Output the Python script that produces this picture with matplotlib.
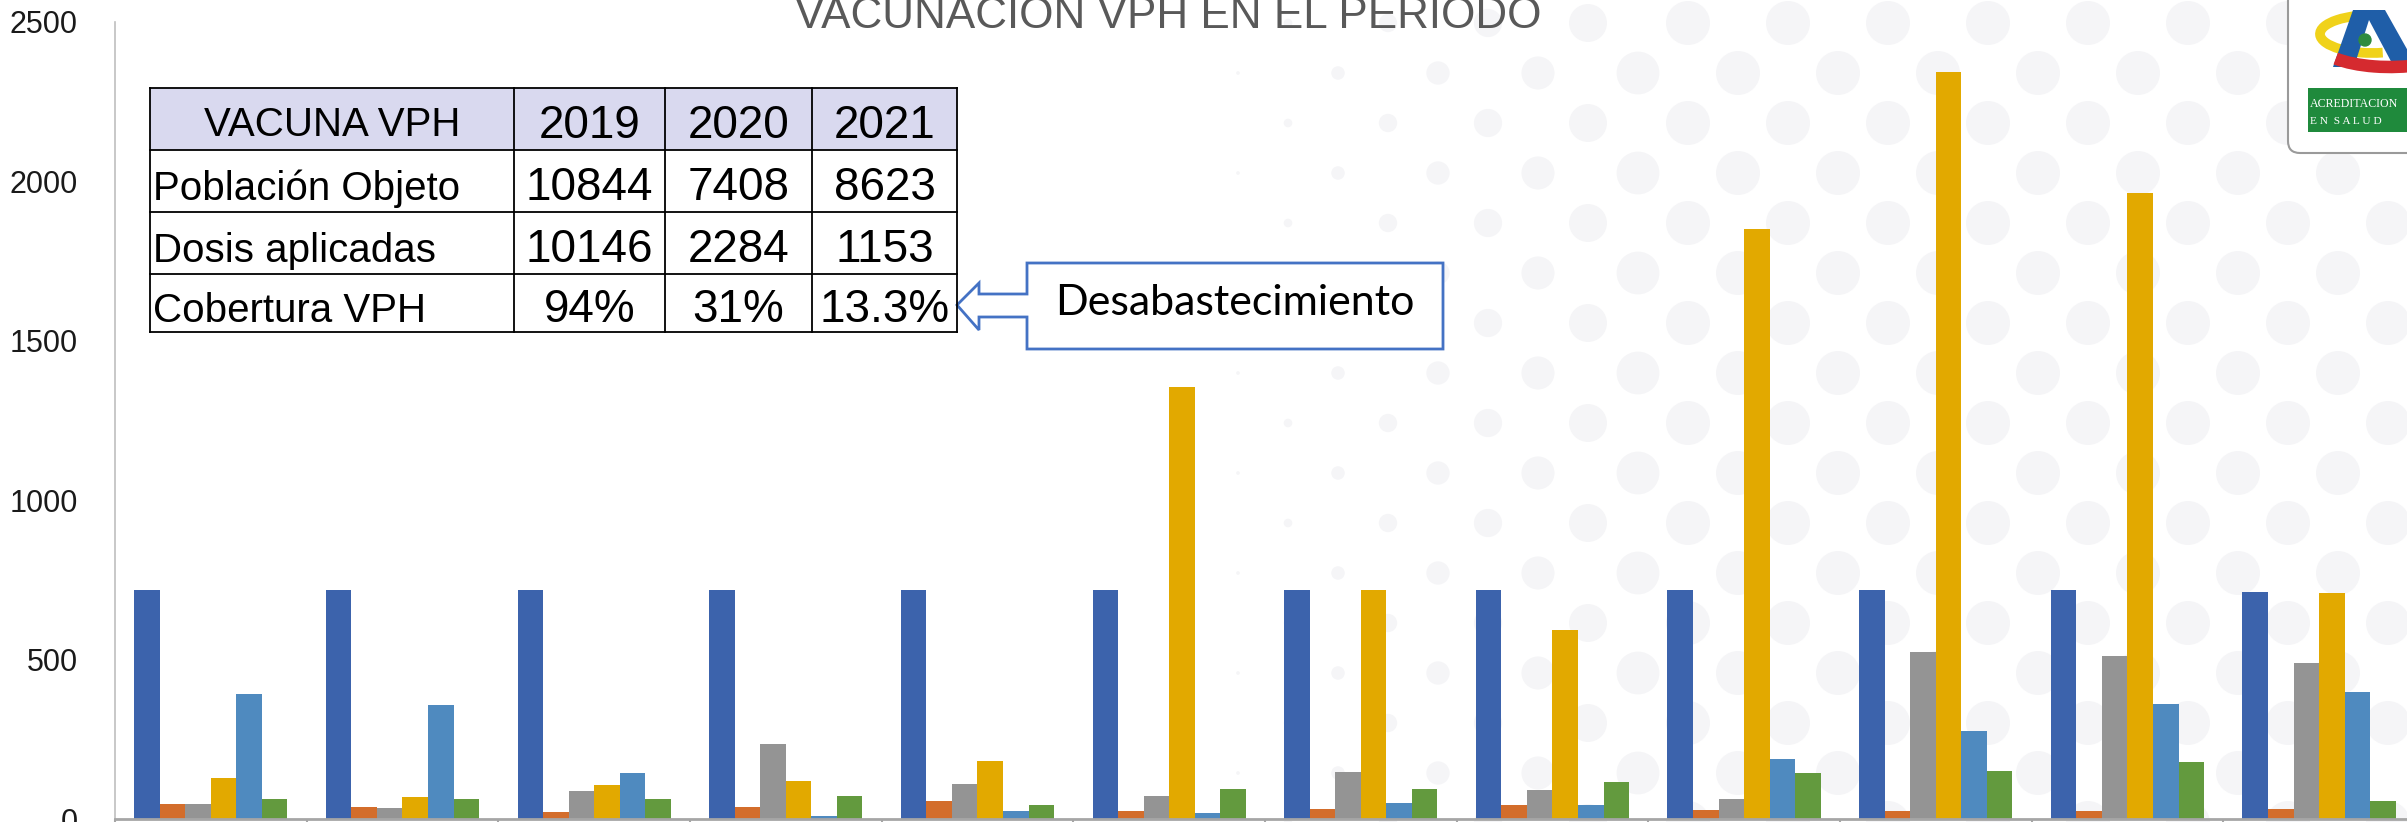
import numpy as np
import matplotlib.pyplot as plt
from matplotlib.patches import Rectangle, Polygon, FancyBboxPatch, Arc, Circle

W, H = 2407, 822

# datos de las barras (12 grupos, 6 series)
grupos = list(range(1, 13))
serie_1 = [717, 717, 717, 717, 717, 717, 717, 717, 717, 717, 717, 711]
serie_2 = [46, 37, 21, 37, 58, 25, 32, 44, 29, 24, 24, 31]
serie_3 = [46, 34, 88, 235, 110, 71, 147, 90, 63, 524, 511, 489]
serie_4 = [128, 68, 107, 118, 182, 1355, 717, 592, 1850, 2342, 1963, 710]
serie_5 = [392, 359, 143, 10, 26, 18, 49, 43, 189, 275, 361, 398]
serie_6 = [62, 63, 62, 71, 43, 93, 93, 116, 144, 151, 180, 55]
colores = ['#3C63AC', '#D36D2B', '#949494', '#E2A900', '#4F8ABF', '#639A3E']
yticks = [0, 500, 1000, 1500, 2000, 2500]

# tabla
tabla_cols = ['VACUNA VPH', '2019', '2020', '2021']
tabla_filas = ['Población Objeto', 'Dosis aplicadas', 'Cobertura VPH']
tabla_vals = [['10844', '7408', '8623'],
              ['10146', '2284', '1153'],
              ['94%', '31%', '13.3%']]

titulo = 'VACUNACION VPH EN EL PERIODO'
nota = 'Desabastecimiento'

fig = plt.figure(figsize=(W / 100, H / 100), dpi=100)

# fondo con puntos
bg = fig.add_axes([0, 0, 1, 1], zorder=0)
bg.set_xlim(0, W)
bg.set_ylim(H, 0)
bg.axis('off')
for r, yy in enumerate(range(23, H + 40, 50)):
    x0 = 1588 - 50 * (r % 2) - 100 * 16
    for xx in range(x0, W + 60, 100):
        s = np.clip((xx - 1200) / 450.0, 0, 1)
        if s <= 0:
            continue
        bg.add_patch(Circle((xx, yy), 22 * s, color='#f5f5f7', lw=0))

# grafico de barras
ax = fig.add_axes([115 / W, 1 - 819 / H, 2300 / W, (819 - 22) / H], zorder=1)
ax.patch.set_alpha(0)
x = np.arange(len(grupos))
w = 0.8 / 6
series = [serie_1, serie_2, serie_3, serie_4, serie_5, serie_6]
for i, (vals, c) in enumerate(zip(series, colores)):
    ax.bar(x + (i - 2.5) * w, vals, w, color=c, zorder=2)

ax.set_xlim(-0.5, len(grupos) - 0.5)
ax.set_ylim(0, 2500)
ax.set_yticks(yticks)
ax.set_yticklabels([str(v) for v in yticks], fontsize=22, family='Liberation Sans', color='#1a1a1a')
ax.tick_params(axis='y', length=0, pad=27)
ax.set_xticks(np.arange(-0.5, len(grupos), 1))
ax.set_xticklabels([])
ax.tick_params(axis='x', length=10, width=1.5, color='#a6a6a6')
for s in ['top', 'right']:
    ax.spines[s].set_visible(False)
ax.spines['left'].set_color('#bfbfbf')
ax.spines['left'].set_linewidth(1.2)
ax.spines['bottom'].set_color('#a6a6a6')
ax.spines['bottom'].set_linewidth(2)

# capa superior: titulo, tabla, nota, logo
fg = fig.add_axes([0, 0, 1, 1], zorder=3)
fg.set_xlim(0, W)
fg.set_ylim(H, 0)
fg.axis('off')

fg.text(1168, 28, titulo, ha='center', va='baseline', fontsize=31.7,
        color='#595959', family='Liberation Sans')

col_x = [150, 514, 665, 812, 957]
row_y = [88, 150, 212, 274, 332]
fg.add_patch(Rectangle((col_x[0], row_y[0]), col_x[-1] - col_x[0], row_y[1] - row_y[0],
                       facecolor='#d9d9ef', edgecolor='none'))
fg.add_patch(Rectangle((col_x[0], row_y[1]), col_x[-1] - col_x[0], row_y[-1] - row_y[1],
                       facecolor='white', edgecolor='none'))
for yy in row_y:
    fg.plot([col_x[0], col_x[-1]], [yy, yy], color='black', lw=1.3)
for xx in col_x:
    fg.plot([xx, xx], [row_y[0], row_y[-1]], color='black', lw=1.3)

lab_font = dict(fontsize=29, family='Liberation Sans', color='black', va='center_baseline')
num_font = dict(fontsize=33, family='Liberation Sans', color='black', va='center_baseline')
fg.text((col_x[0] + col_x[1]) / 2, (row_y[0] + row_y[1]) / 2 + 2, tabla_cols[0], ha='center', **lab_font)
for j, t in enumerate(tabla_cols[1:]):
    fg.text((col_x[j + 1] + col_x[j + 2]) / 2, (row_y[0] + row_y[1]) / 2 + 2, t, ha='center', **num_font)
for i, lab in enumerate(tabla_filas):
    yc = (row_y[i + 1] + row_y[i + 2]) / 2 + 2
    fg.text(col_x[0] + 3, yc + 2, lab, ha='left', **lab_font)
    for j, v in enumerate(tabla_vals[i]):
        fg.text((col_x[j + 1] + col_x[j + 2]) / 2, yc, v, ha='center', **num_font)

# flecha con recuadro
call = [(1027, 263), (1443, 263), (1443, 349), (1027, 349), (1027, 317), (979, 317),
        (979, 330), (957, 305), (979, 283), (979, 294), (1027, 294)]
fg.add_patch(Polygon(call, closed=True, facecolor='white', edgecolor='#4472C4', lw=2))
fg.text(1235, 303, nota, ha='center', va='center', fontsize=31, family='Lato', color='black')

# logo
fg.add_patch(FancyBboxPatch((2288, -30), 170, 183, boxstyle='round,pad=0,rounding_size=12',
                            facecolor='white', edgecolor='#9a9a9a', lw=1.5))
fg.add_patch(Arc((2372, 34), 104, 38, theta1=60, theta2=290, color='#f0d21a', lw=7))
fg.add_patch(Polygon([(2333, 67), (2353, 10), (2385, 10), (2417, 67), (2394, 67),
                      (2369, 20), (2354, 67)], closed=True, facecolor='#1f5ea8', edgecolor='none'))
fg.add_patch(Arc((2390, 44), 140, 46, theta1=35, theta2=165, color='#d52a2f', lw=9))
fg.add_patch(Circle((2365, 40), 6, color='#2f8b3f'))
fg.add_patch(Rectangle((2308, 88), 120, 44, facecolor='#1f8a3c', edgecolor='none'))
fg.text(2310, 104, 'ACREDITACION', color='white', fontsize=8.6, family='Liberation Serif',
        va='center', ha='left')
fg.text(2310, 122, 'E N  S A L U D', color='white', fontsize=8.2, family='Liberation Serif',
        va='center', ha='left')

fig.savefig('out.png', dpi=100)
